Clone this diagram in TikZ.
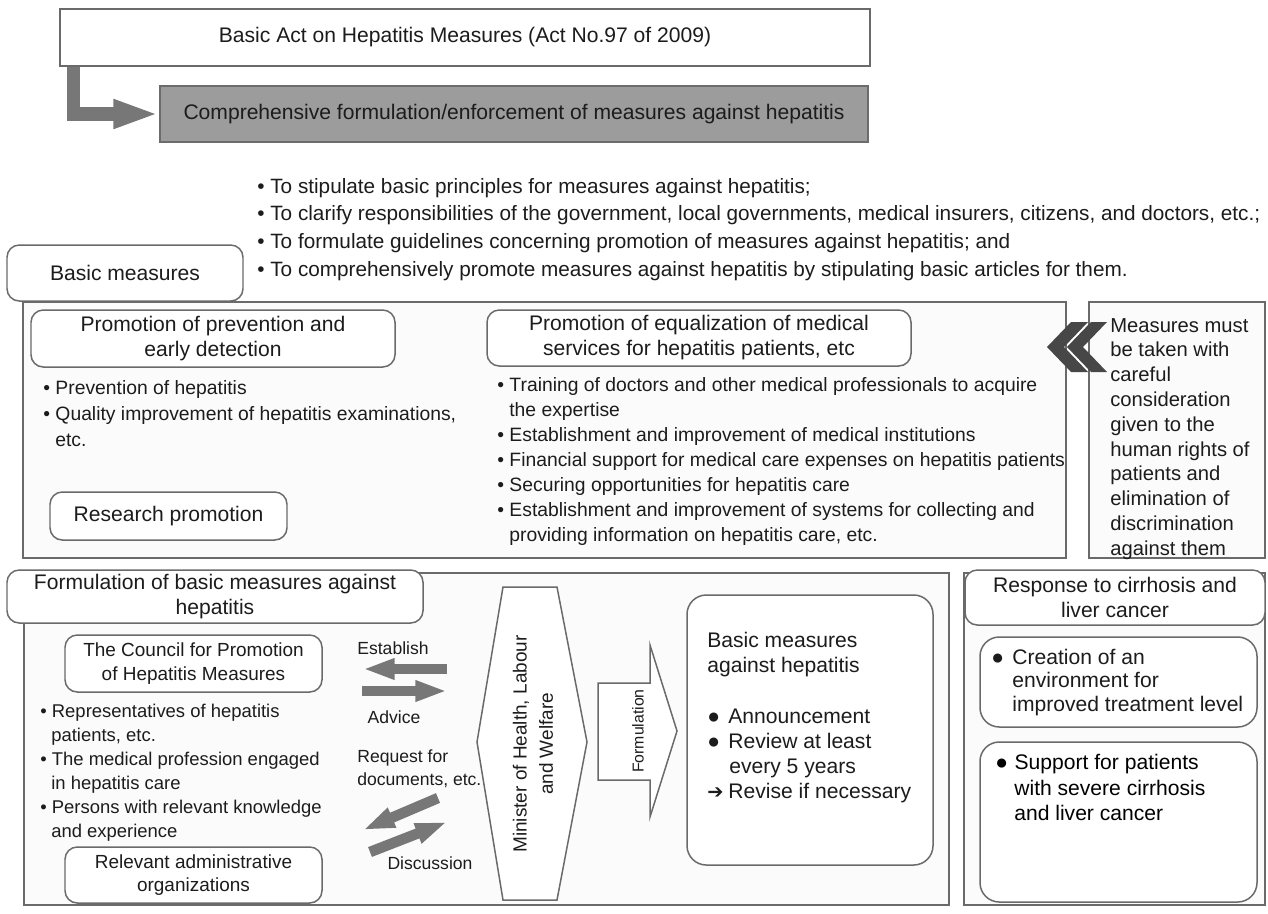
\documentclass[tikz,border=0pt]{standalone}
\usepackage{fontspec}
\setmainfont{Liberation Sans}
\newfontfamily\symfont{DejaVu Sans}
\usetikzlibrary{arrows.meta,fit,calc}
\definecolor{ink}{HTML}{1C1C1C}
\definecolor{frame}{HTML}{6A6A6A}
\definecolor{shaft}{HTML}{777777}
\definecolor{aimfill}{HTML}{9C9C9C}
\definecolor{aimedge}{HTML}{6C6C6C}
\definecolor{chev}{HTML}{474747}
\definecolor{paper}{HTML}{FBFBFB}
\newcommand{\setfs}[2]{\fontsize{#1}{#2}\selectfont}

\begin{document}
\begin{tikzpicture}[x=0.02cm, y=-0.02cm,
  every node/.style={text=ink},
  panel/.style={draw=frame, line width=1.1pt, fill=paper, inner sep=0pt},
  rbox/.style={draw=frame, line width=0.85pt, fill=white, rounded corners=7pt, inner sep=0pt},
  label/.style={inner sep=0pt, align=center},
  ln/.style={inner sep=0pt, anchor=west, text height=8pt, text depth=0pt},
  lc/.style={ln, anchor=center},
  t12/.style={font=\setfs{12}{14.2}},
  t118/.style={font=\setfs{11.8}{14}},
  t115/.style={font=\setfs{11.5}{14}},
  t11/.style={font=\setfs{11}{14.2}},
  t108/.style={font=\setfs{10.8}{13.2}},
  t105/.style={font=\setfs{10.5}{13}},
  t10/.style={font=\setfs{10}{12}},
  outline/.style={draw=frame, line width=0.85pt, fill=white},
  blockarrow/.style={draw=shaft, line width=6pt, -{Triangle[length=18pt,width=11pt]}},
  larrow/.style={draw=shaft, line width=7.8pt, -{Triangle[length=26pt,width=15pt]}},
  chevron/.style={fill=chev, draw=none}
]
\useasboundingbox[fill=white] (0,0) rectangle (1268,913);

% ---------- the Act and its purpose ----------
\node[panel, fill=white, draw=frame, fit={(60,9)(870,66)}] (act) {};
\node[label, t12] (acttext) at (act.center) {Basic Act on Hepatitis Measures (Act No.97 of 2009)};
\node[panel, fill=aimfill, draw=aimedge, fit={(160,86)(868,142)}] (aim) {};
\node[label, t12] (aimtext) at (aim.center) {Comprehensive formulation/enforcement of measures against hepatitis};
\draw[larrow] ($(act.south west)+(14.5,0)$) |- (aim.west);

\foreach \t [count=\i from 0] in {%
  {To stipulate basic principles for measures against hepatitis;},
  {To clarify responsibilities of the government, local governments, medical insurers, citizens, and doctors, etc.;},
  {To formulate guidelines concerning promotion of measures against hepatitis; and},
  {To comprehensively promote measures against hepatitis by stipulating basic articles for them.}}
  \node[ln, t118] (purpose\i) at (257,186+27.7*\i) {\textbullet\ \t};

% ---------- basic measures ----------
\node[panel, fit={(23,302)(1066,558)}] (basicpanel) {};
\node[panel, fit={(1089,302)(1265,558)}] (rightspanel) {};
\node[rbox, fit={(7,245)(243,301)}] (basictab) {};
\node[label, t12] (basictabtext) at (basictab.center) {Basic measures};

\node[rbox, fit={(31,310)(395,367)}] (prevention) {};
\node[label, t12] (preventiontext) at (prevention.center) {Promotion of prevention and\\early detection};
\node[ln, t11] (pv1) at (43,387) {\textbullet\ Prevention of hepatitis};
\node[ln, t11] (pv2) at (43,413) {\textbullet\ Quality improvement of hepatitis examinations,};
\node[ln, t11] (pv3) at (55,439) {etc.};
\node[rbox, fit={(50,492)(287,540)}] (research) {};
\node[label, t12] (researchtext) at (research.center) {Research promotion};

\node[rbox, fit={(487,310)(911,366)}] (equal) {};
\node[label, t12] (equaltext) at (equal.center) {Promotion of equalization of medical\\services for hepatitis patients, etc};
\node[ln, t11] (eq1) at (497,384) {\textbullet\ Training of doctors and other medical professionals to acquire};
\node[ln, t11] (eq2) at (509,409) {the expertise};
\node[ln, t11] (eq3) at (497,434) {\textbullet\ Establishment and improvement of medical institutions};
\node[ln, t11] (eq4) at (497,459) {\textbullet\ Financial support for medical care expenses on hepatitis patients};
\node[ln, t11] (eq5) at (497,484) {\textbullet\ Securing opportunities for hepatitis care};
\node[ln, t11] (eq6) at (497,509) {\textbullet\ Establishment and improvement of systems for collecting and};
\node[ln, t11] (eq7) at (509,534) {providing information on hepatitis care, etc.};

\foreach \t [count=\i from 0] in {Measures must, be taken with, careful,
  consideration, given to the, human rights of, patients and,
  elimination of, discrimination, against them}
  \node[ln, t115] (rights\i) at (1110,325+24.8*\i) {\t};

% double chevron pointing at the basic measures
\fill[chevron] (1047,347) -- (1071,322) -- (1088,322) -- (1064,347) -- (1088,372) -- (1071,372) -- cycle;
\fill[chevron] (1067,347) -- (1091,322) -- (1107,322) -- (1083,347) -- (1107,372) -- (1091,372) -- cycle;

% ---------- formulation of basic measures ----------
\node[panel, fit={(24,573)(949,905)}] (formpanel) {};
\node[rbox, fit={(7,570)(423,623)}] (formtab) {};
\node[label, t12] (formtabtext) at (formtab.center) {Formulation of basic measures against\\hepatitis};

\node[rbox, fit={(65,635)(322,692)}] (council) {};
\node[label, t108] (counciltext) at (council.center) {The Council for Promotion\\of Hepatitis Measures};
\node[ln, t105] (cm1) at (40,710) {\textbullet\ Representatives of hepatitis};
\node[ln, t105] (cm2) at (51,734) {patients, etc.};
\node[ln, t105] (cm3) at (40,758) {\textbullet\ The medical profession engaged};
\node[ln, t105] (cm4) at (51,782) {in hepatitis care};
\node[ln, t105] (cm5) at (40,806) {\textbullet\ Persons with relevant knowledge};
\node[ln, t105] (cm6) at (51,830) {and experience};
\node[rbox, fit={(65,847)(322,903)}] (admin) {};
\node[label, t108] (admintext) at (admin.center) {Relevant administrative\\organizations};

% exchanges between the council, the organizations and the minister
\node[lc, t10] (establish) at (393,647) {Establish};
\node[lc, t10] (advice) at (394,716) {Advice};
\node[ln, t10] (request1) at (357,755) {Request for};
\node[ln, t10] (request2) at (357,778) {documents, etc.};
\node[lc, t10] (discussion) at (430,862) {Discussion};
\coordinate (estA) at (447,669);
\coordinate (estB) at (363,669);
\coordinate (advA) at (362,691);
\coordinate (advB) at (447,691);
\coordinate (reqA) at (438,798);
\coordinate (reqB) at (363,830);
\coordinate (disA) at (370,852);
\coordinate (disB) at (447,822);
\draw[blockarrow] (estA) -- (estB);
\draw[blockarrow] (advA) -- (advB);
\draw[blockarrow] (reqA) -- (reqB);
\draw[blockarrow] (disA) -- (disB);

% the minister
\draw[outline] (503,587) -- (557,587) -- (587,742) -- (557,900) -- (503,900) -- (477,742) -- cycle;
\node[rotate=90, align=center, font=\setfs{10.8}{15}] (minister) at (533,744)
  {Minister of Health, Labour\\and Welfare};

% formulation block arrow
\draw[outline] (598,683) -- (650,683) -- (650,645) -- (677,731) -- (650,817) -- (650,780) -- (598,780) -- cycle;
\node[rotate=90, font=\setfs{9}{11}] (formulation) at (638,731) {Formulation};

% resulting basic measures
\node[rbox, rounded corners=11pt, fit={(687,595)(933,865)}] (measures) {};
\node[ln, t12] (ms1) at (707,640) {Basic measures};
\node[ln, t12] (ms2) at (707,665) {against hepatitis};
\node[ln, t12] (ms3) at (707,716) {\makebox[12pt][l]{●}Announcement};
\node[ln, t12] (ms4) at (707,741) {\makebox[12pt][l]{●}Review at least};
\node[ln, t12] (ms5) at (729,766) {every 5 years};
\node[ln, t12] (ms6) at (707,791) {\makebox[12pt][l]{\symfont\setfs{11}{12}➔}Revise if necessary};

% ---------- cirrhosis and liver cancer ----------
\node[panel, fit={(964,573)(1265,905)}] (cancerpanel) {};
\node[rbox, fit={(965,570)(1265,625)}] (cancertab) {};
\node[label, t12] (cancertabtext) at (cancertab.center) {Response to cirrhosis and\\liver cancer};
\node[rbox, rounded corners=11pt, fit={(980,637)(1257,727)}] (environment) {};
\node[ln, t12] (en1) at (991,657) {\makebox[12pt][l]{●}Creation of an};
\node[ln, t12] (en2) at (1012,680) {environment for};
\node[ln, t12] (en3) at (1012,704) {improved treatment level};
\node[rbox, rounded corners=11pt, fit={(980,742)(1257,902)}] (support) {};
\node[ln, t12, text=black] (su1) at (995,762) {\makebox[11pt][l]{●}Support for patients};
\node[ln, t12, text=black] (su2) at (1014,788) {with severe cirrhosis};
\node[ln, t12, text=black] (su3) at (1014,813) {and liver cancer};
\end{tikzpicture}
\end{document}
